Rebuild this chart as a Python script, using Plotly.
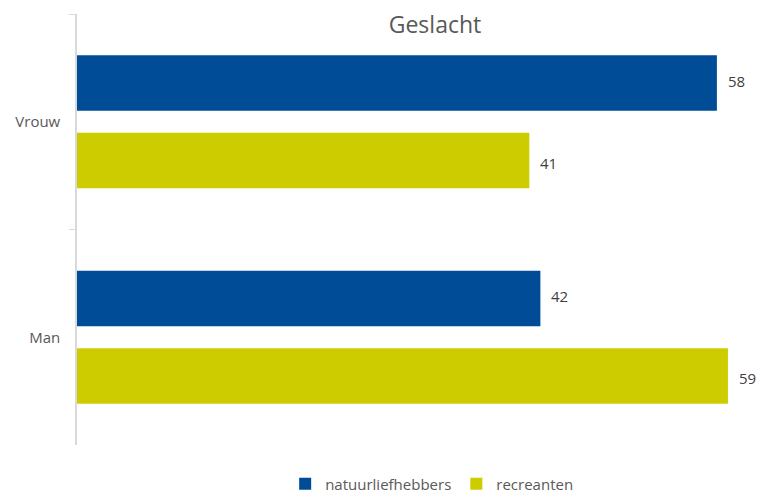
import plotly.graph_objects as go

categories = ["Vrouw", "Man"]
natuurliefhebbers = [58, 42]
recreanten = [41, 59]
series_names = ["natuurliefhebbers", "recreanten"]
colors = ["#004C97", "#CCCC00"]

FONT = "Open Sans"
fig = go.Figure()
for name, vals, col in zip(series_names, [natuurliefhebbers, recreanten], colors):
    fig.add_trace(go.Bar(
        y=categories, x=vals, name=name, orientation="h",
        marker=dict(color=col, line=dict(width=0)),
        textposition="none",
    ))

# value labels placed at the bar ends (offset group positions)
offsets = [-0.19, 0.19]
for vals, off in zip([natuurliefhebbers, recreanten], offsets):
    for i, v in enumerate(vals):
        fig.add_annotation(x=v, y=i + off, xref="x", yref="y", text=str(v),
                           showarrow=False, xanchor="left", yanchor="middle", xshift=9,
                           font=dict(family=FONT, size=15, color="#404040"))

fig.update_layout(
    width=761, height=495,
    margin=dict(l=77, r=11, t=14, b=50, autoexpand=False),
    paper_bgcolor="white", plot_bgcolor="white",
    barmode="group", bargap=0.28, bargroupgap=0.284,
    title=dict(text="Geslacht", x=435/761, xanchor="center", xref="container",
               y=1-25/495, yanchor="middle", yref="container",
               font=dict(family=FONT, size=23, color="#595959")),
    xaxis=dict(range=[0, 61], visible=False, showgrid=False, zeroline=False),
    yaxis=dict(range=[1.5, -0.5], showline=True, linecolor="#d9d9d9", linewidth=1.5,
               ticks="outside", tickson="boundaries", ticklen=6, tickcolor="#d9d9d9",
               ticklabelstandoff=12, automargin=False,
               showgrid=False, zeroline=False,
               tickfont=dict(family=FONT, size=15, color="#595959")),
    legend=dict(orientation="h", x=0.527, xanchor="center", y=(445-484)/431,
                yanchor="middle",
                font=dict(family=FONT, size=15, color="#595959"),
                itemwidth=30, traceorder="normal"),
    showlegend=True,
)

fig.write_html("out.html", config={"displayModeBar": False},
               post_script="document.body.style.margin='0px';document.body.style.overflow='hidden';")
